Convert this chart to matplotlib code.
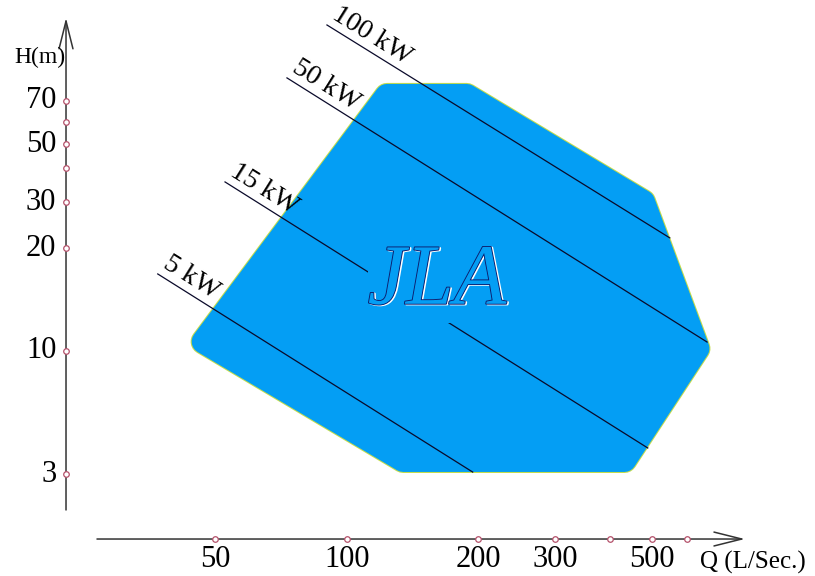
import numpy as np
import matplotlib
matplotlib.use("Agg")
import matplotlib.pyplot as plt
import matplotlib.patheffects as pe

plt.rcParams["font.family"] = ["Liberation Serif", "DejaVu Serif"]

# axis ticks
Q_TICKS = [50, 100, 200, 300, 400, 500, 600]
Q_LABELS = ["50", "100", "200", "300", "", "500", ""]
H_TICKS = [3, 10, 20, 30, 40, 50, 60, 70]
H_LABELS = ["3", "10", "20", "30", "", "50", "", "70"]
# the H axis of the original is hand spaced, these are the tick heights (px from bottom)
H_POS = [102, 225, 328, 374, 408, 432, 454, 475]

# operating region (Q in L/s, H in m), corners get rounded by the stroke
Q_REGION = [47.0, 123.5, 187.9, 476, 634, 431.5, 134.5]
H_REGION = [10.91, 72.4, 72.4, 30.0, 10.24, 3.80, 3.80]

# constant power lines
KW = ["100 kW", "50 kW", "15 kW", "5 kW"]
Q_START = [90.0, 72.9, 52.6, 36.9]
H_START = [106.2, 81.0, 35.9, 17.48]
Q_END = [548, 667, 488, 194]
H_END = [22.2, 10.87, 4.48, 3.11]

BLUE = "#049ef4"
EDGE = "#c4dc4c"


def h_fwd(h):
    h = np.asarray(h, dtype=float)
    y = np.interp(h, H_TICKS, H_POS)
    s_lo = (H_POS[1] - H_POS[0]) / (H_TICKS[1] - H_TICKS[0])
    s_hi = (H_POS[-1] - H_POS[-2]) / (H_TICKS[-1] - H_TICKS[-2])
    y = np.where(h < H_TICKS[0], H_POS[0] + (h - H_TICKS[0]) * s_lo, y)
    y = np.where(h > H_TICKS[-1], H_POS[-1] + (h - H_TICKS[-1]) * s_hi, y)
    return y


def h_inv(y):
    y = np.asarray(y, dtype=float)
    h = np.interp(y, H_POS, H_TICKS)
    s_lo = (H_TICKS[1] - H_TICKS[0]) / (H_POS[1] - H_POS[0])
    s_hi = (H_TICKS[-1] - H_TICKS[-2]) / (H_POS[-1] - H_POS[-2])
    h = np.where(y < H_POS[0], H_TICKS[0] + (y - H_POS[0]) * s_lo, h)
    h = np.where(y > H_POS[-1], H_TICKS[-1] + (y - H_POS[-1]) * s_hi, h)
    return h


fig = plt.figure(figsize=(8.15, 5.76), dpi=100)
ax = fig.add_axes([0, 0, 1, 1])
ax.set_xscale("log")
ax.set_xlim(16.07, 1178)
ax.set_yscale("function", functions=(h_fwd, h_inv))
ax.set_ylim(float(h_inv(0)), float(h_inv(576)))
ax.axis("off")

# region, rounded corners via a thick round-joined stroke
ax.fill(Q_REGION, H_REGION, fc=EDGE, ec=EDGE, lw=18.8, joinstyle="round", zorder=1)
ax.fill(Q_REGION, H_REGION, fc=BLUE, ec=BLUE, lw=17.3, joinstyle="round", zorder=2)

for name, q0, h0, q1, h1 in zip(KW, Q_START, H_START, Q_END, H_END):
    ax.plot([q0, q1], [h0, h1], color="#0a0a2a", lw=0.9, zorder=3)
    ax.annotate(name, xy=(q0, h0), xytext=(0.8, 1.2), textcoords="offset points",
                rotation=-32, rotation_mode="anchor", ha="left", va="bottom",
                fontsize=20, zorder=4)

t = ax.text(160.7, 16.6, "JLA", fontsize=62, style="italic", color=BLUE,
            ha="center", va="center", zorder=5,
            bbox=dict(boxstyle="square,pad=0.0", fc=BLUE, ec="none"))
t.set_path_effects([pe.Stroke(linewidth=1.4, foreground="white", offset=(1, -0.5)),
                    pe.Stroke(linewidth=1.3, foreground="#0d1b6b"),
                    pe.Normal()])

# hand drawn style axes
ax_x, ax_y = 0.081, 0.0642
arrow = dict(arrowstyle="->,head_length=1.0,head_width=0.25", lw=1.1,
             color="#333333", mutation_scale=20, shrinkA=0, shrinkB=0)
ax.annotate("", xy=(ax_x, 0.969), xytext=(ax_x, 0.1146), xycoords="axes fraction",
            arrowprops=arrow)
ax.annotate("", xy=(0.914, ax_y), xytext=(0.119, ax_y), xycoords="axes fraction",
            arrowprops=arrow)

xt = ax.get_xaxis_transform()
yt = ax.get_yaxis_transform()
ax.plot(Q_TICKS, [ax_y] * len(Q_TICKS), "o", ms=4, mfc="white", mec="#b4506a",
        mew=0.9, transform=xt, zorder=6, clip_on=False)
ax.plot([ax_x] * len(H_TICKS), H_TICKS, "o", ms=4, mfc="white", mec="#b4506a",
        mew=0.9, transform=yt, zorder=6, clip_on=False)

for q, lab in zip(Q_TICKS, Q_LABELS):
    ax.annotate(lab, xy=(q, ax_y), xycoords=xt, xytext=(0, -4),
                textcoords="offset points", ha="center", va="top", fontsize=22)
for h, lab in zip(H_TICKS, H_LABELS):
    ax.annotate(lab, xy=(ax_x, h), xycoords=yt, xytext=(-7, 0),
                textcoords="offset points", ha="right", va="center", fontsize=22)

ax.text(0.08, 0.901, "H(m)", transform=ax.transAxes, ha="right", va="center",
        fontsize=17)
ax.text(0.859, 0.024, "Q (L/Sec.)", transform=ax.transAxes, ha="left",
        va="center", fontsize=18)

fig.savefig("out.png", dpi=100, facecolor="white")
